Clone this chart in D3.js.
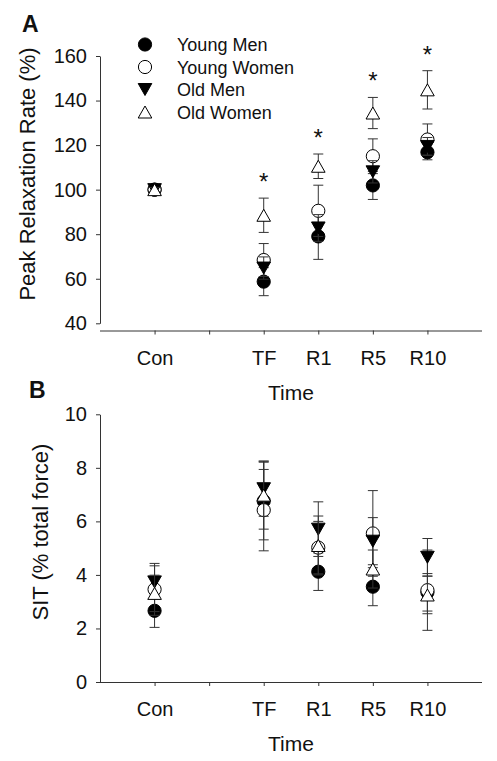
<!DOCTYPE html>
<html>
<head>
<meta charset="utf-8">
<script src="https://cdn.jsdelivr.net/npm/d3@7"></script>
<style>
  html, body { margin: 0; padding: 0; background: #fff; }
  svg { display: block; font-family: "Liberation Sans", Arial, sans-serif; }
</style>
</head>
<body>
<svg id="chart" width="497" height="761"></svg>
<script>
// ---------- data ----------
const categories = ["Con", "gap", "TF", "R1", "R5", "R10"];
const times = ["Con", "TF", "R1", "R5", "R10"];
const seriesNames = ["Young Men", "Young Women", "Old Men", "Old Women"];

// Panel A: Peak Relaxation Rate (%)
const youngMenA = [100, 58.7, 79.0, 101.9, 116.8];
const youngMenA_se = [1, 6.3, 10.3, 6.3, 3.4];
const youngWomenA = [100, 68.4, 90.5, 115.0, 122.5];
const youngWomenA_se = [1, 7.4, 11.5, 7.8, 7.0];
const oldMenA = [100, 64.8, 82.8, 108.0, 119.4];
const oldMenA_se = [1, 5.0, 6.0, 5.0, 4.0];
const oldWomenA = [100, 88.5, 110.5, 134.4, 144.8];
const oldWomenA_se = [1, 7.7, 5.5, 7.0, 8.6];
const significantA = ["TF", "R1", "R5", "R10"];
const yTicksA = [40, 60, 80, 100, 120, 140, 160];

// Panel B: SIT (% total force)
const youngMenB = [2.66, 6.76, 4.12, 3.56, 3.35];
const youngMenB_se = [0.62, 1.45, 0.70, 0.71, 0.70];
const youngWomenB = [3.46, 6.42, 5.02, 5.55, 3.43];
const youngWomenB_se = [0.97, 1.52, 0.98, 1.60, 1.50];
const oldMenB = [3.74, 7.22, 5.71, 5.26, 4.66];
const oldMenB_se = [0.60, 1.03, 1.02, 0.88, 0.70];
const oldWomenB = [3.31, 6.98, 5.10, 4.22, 3.25];
const oldWomenB_se = [0.68, 1.27, 1.10, 0.71, 0.70];
const yTicksB = [0, 2, 4, 6, 8, 10];

// ---------- styles ----------
const FONT = "\"Liberation Sans\", Arial, sans-serif";
const AX = "#333";
const markerStyles = [
  { shape: "circle", fill: "#000" },
  { shape: "circle", fill: "#fff" },
  { shape: "down", fill: "#000" },
  { shape: "up", fill: "#fff" }
];
function markerPath(shape) {
  if (shape === "circle") {
    const r = 6.6;
    return `M${-r},0A${r},${r} 0 1,0 ${r},0A${r},${r} 0 1,0 ${-r},0Z`;
  }
  const w = 6.8, h = 6;
  if (shape === "down") return `M${-w},${-h}L${w},${-h}L0,${h}Z`;
  return `M${-w},${h}L${w},${h}L0,${-h}Z`;
}

const svg = d3.select("#chart");

function drawPanel(opt) {
  const g = svg.append("g");
  const x = d3.scalePoint().domain(categories).range([100, 482]).padding(1);
  const y = d3.scaleLinear().domain(opt.yDomain).range(opt.yRange);

  // y axis
  const yAxis = g.append("g").attr("transform", "translate(100,0)")
    .call(d3.axisLeft(y).tickValues(opt.yTicks).tickSize(4).tickSizeOuter(0).tickPadding(9));
  yAxis.select(".domain").attr("stroke", AX);
  yAxis.selectAll(".tick line").attr("stroke", AX);
  yAxis.selectAll("text").attr("font-size", 20).attr("font-family", FONT).attr("fill", "#111");

  // x axis
  const xAxis = g.append("g").attr("transform", `translate(0,${opt.xAxisY})`)
    .call(d3.axisBottom(x).tickSize(4).tickSizeOuter(0).tickPadding(16)
      .tickFormat(d => d === "gap" ? "" : d));
  xAxis.select(".domain").attr("stroke", AX).attr("d", `M${opt.xStart},0.5H482`);
  xAxis.selectAll(".tick line").attr("stroke", AX);
  xAxis.selectAll("text").attr("font-size", 20).attr("font-family", FONT).attr("fill", "#111");

  // axis titles
  g.append("text").attr("x", 291).attr("y", opt.timeY).attr("text-anchor", "middle")
    .attr("font-size", 21).attr("font-family", FONT).attr("fill", "#111").text("Time");
  g.append("text")
    .attr("transform", `translate(${opt.yLabelX},${opt.yLabelY}) rotate(-90)`)
    .attr("text-anchor", "middle").attr("font-size", 22).attr("font-family", FONT)
    .attr("fill", "#111").text(opt.yLabel);
  g.append("text").attr("x", opt.letterX).attr("y", opt.letterY)
    .attr("font-size", 23).attr("font-weight", "bold").attr("font-family", FONT)
    .attr("fill", "#111").text(opt.letter);

  // series: error bars then markers, in legend order
  opt.series.forEach((s, si) => {
    const st = markerStyles[si];
    const pts = times.map((t, i) => ({ t, v: s.values[i], e: s.se[i] }));
    const eg = g.append("g").attr("stroke", AX).attr("stroke-width", 1).attr("fill", "none");
    pts.forEach(p => {
      const cx = x(p.t);
      const y1 = y(p.v + p.e), y2 = y(p.v - p.e);
      eg.append("line").attr("x1", cx).attr("x2", cx).attr("y1", y1).attr("y2", y2);
      eg.append("line").attr("x1", cx - 5).attr("x2", cx + 5).attr("y1", y1).attr("y2", y1);
      eg.append("line").attr("x1", cx - 5).attr("x2", cx + 5).attr("y1", y2).attr("y2", y2);
    });
    g.append("g").selectAll("path").data(pts).join("path")
      .attr("transform", p => `translate(${x(p.t)},${y(p.v)})`)
      .attr("d", markerPath(st.shape))
      .attr("fill", st.fill).attr("stroke", "#000").attr("stroke-width", 1);
  });

  // significance asterisks
  if (opt.sig) {
    const ow = opt.series[3];
    opt.sig.forEach(t => {
      const i = times.indexOf(t);
      g.append("text").attr("x", x(t)).attr("y", y(ow.values[i] + ow.se[i]) - 8)
        .attr("text-anchor", "middle").attr("font-size", 24).attr("font-family", FONT)
        .attr("fill", "#111").text("*");
    });
  }

  // legend
  if (opt.legend) {
    const rowY = [44.5, 67, 89.5, 112];
    seriesNames.forEach((n, i) => {
      const st = markerStyles[i];
      svg.append("path").attr("transform", `translate(145,${rowY[i]})`)
        .attr("d", markerPath(st.shape)).attr("fill", st.fill)
        .attr("stroke", "#000").attr("stroke-width", 1);
      svg.append("text").attr("x", 177).attr("y", rowY[i] + 6.5)
        .attr("font-size", 18).attr("font-family", FONT).attr("fill", "#111").text(n);
    });
  }
}

drawPanel({
  letter: "A", letterX: 22, letterY: 32,
  yDomain: [40, 160], yRange: [323.3, 56], yTicks: yTicksA,
  xAxisY: 330.5, xStart: 100, timeY: 400,
  yLabel: "Peak Relaxation Rate (%)", yLabelX: 35, yLabelY: 174,
  series: [
    { values: youngMenA, se: youngMenA_se },
    { values: youngWomenA, se: youngWomenA_se },
    { values: oldMenA, se: oldMenA_se },
    { values: oldWomenA, se: oldWomenA_se }
  ],
  sig: significantA, legend: true
});

drawPanel({
  letter: "B", letterX: 29, letterY: 398,
  yDomain: [0, 10], yRange: [682, 414.3], yTicks: yTicksB,
  xAxisY: 682, xStart: 97, timeY: 750.5,
  yLabel: "SIT (% total force)", yLabelX: 48, yLabelY: 532,
  series: [
    { values: youngMenB, se: youngMenB_se },
    { values: youngWomenB, se: youngWomenB_se },
    { values: oldMenB, se: oldMenB_se },
    { values: oldWomenB, se: oldWomenB_se }
  ],
  sig: null, legend: false
});
</script>
</body>
</html>
